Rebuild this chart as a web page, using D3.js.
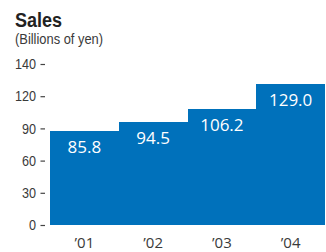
<!DOCTYPE html>
<html>
<head>
<meta charset="utf-8">
<script src="https://cdn.jsdelivr.net/npm/d3@7"></script>
<style>
  html, body { margin: 0; padding: 0; background: #ffffff; }
  svg { display: block; }
</style>
</head>
<body>
<svg id="chart" width="326" height="252"></svg>
<script>
// ---- data ----
const years = ["\u201901", "\u201902", "\u201903", "\u201904"];
const sales = [85.8, 94.5, 106.2, 129.0];
const valueLabels = ["85.8", "94.5", "106.2", "129.0"];
const yTickLabels = ["0", "30", "60", "90", "120", "140"];
const title = "Sales";
const subtitle = "(Billions of yen)";

// ---- layout ----
const plotLeft = 50, plotRight = 325, plotBottom = 225, plotTop = 72;
const axisTop = 64;
const barColor = "#0071bb";
const textColor = "#3a3a3a";
const helv = "'Liberation Sans', Arial, sans-serif";
const sans = "'Open Sans', 'Noto Sans', sans-serif";

const svg = d3.select("#chart");

// compress text horizontally to imitate a condensed typeface
function condense(sel, factor) {
  sel.each(function () {
    const len = this.getComputedTextLength();
    d3.select(this)
      .attr("textLength", len * factor)
      .attr("lengthAdjust", "spacingAndGlyphs");
  });
}

const x = d3.scaleBand().domain(years).range([plotLeft, plotRight]).padding(0);
const y = d3.scaleLinear().domain([0, 140]).range([plotBottom, plotTop]);
// axis labels are evenly spaced in the original artwork
const yAxisScale = d3.scalePoint().domain(yTickLabels).range([plotBottom, axisTop]);

// title
svg.append("text")
  .attr("x", 15).attr("y", 27.3)
  .attr("font-family", helv)
  .attr("font-weight", "bold")
  .attr("font-size", 20)
  .attr("fill", "#222")
  .text(title)
  .call(condense, 0.9);

svg.append("text")
  .attr("x", 15).attr("y", 44)
  .attr("font-family", helv)
  .attr("font-size", 14)
  .attr("fill", textColor)
  .text(subtitle)
  .call(condense, 0.92);

// bars
const data = years.map((yr, i) => ({ yr, v: sales[i], label: valueLabels[i] }));

svg.append("g").selectAll("rect")
  .data(data).join("rect")
  .attr("x", d => x(d.yr))
  .attr("y", d => y(d.v))
  .attr("width", x.bandwidth())
  .attr("height", d => plotBottom - y(d.v))
  .attr("fill", barColor)
  .attr("shape-rendering", "crispEdges");

// value labels
svg.append("g").selectAll("text")
  .data(data).join("text")
  .attr("x", d => x(d.yr) + x.bandwidth() / 2)
  .attr("y", d => y(d.v) + 22)
  .attr("text-anchor", "middle")
  .attr("font-family", sans)
  .attr("font-size", 17)
  .attr("fill", "#ffffff")
  .text(d => d.label);

// y axis
const yAxis = d3.axisLeft(yAxisScale).tickSize(4.5).tickPadding(4.5);
const gy = svg.append("g").attr("transform", "translate(45,0)").call(yAxis);
gy.select(".domain").remove();
gy.selectAll(".tick line").attr("stroke", "#444").attr("stroke-width", 1.2);
gy.selectAll(".tick text")
  .attr("font-family", helv)
  .attr("font-size", 14.5)
  .attr("fill", textColor)
  .call(condense, 0.87);

// x axis
const xAxis = d3.axisBottom(x).tickSize(0).tickPadding(12);
const gx = svg.append("g").attr("transform", `translate(0,${plotBottom})`).call(xAxis);
gx.select(".domain").remove();
gx.selectAll(".tick text")
  .attr("font-family", sans)
  .attr("font-size", 15)
  .attr("fill", textColor);
</script>
</body>
</html>
